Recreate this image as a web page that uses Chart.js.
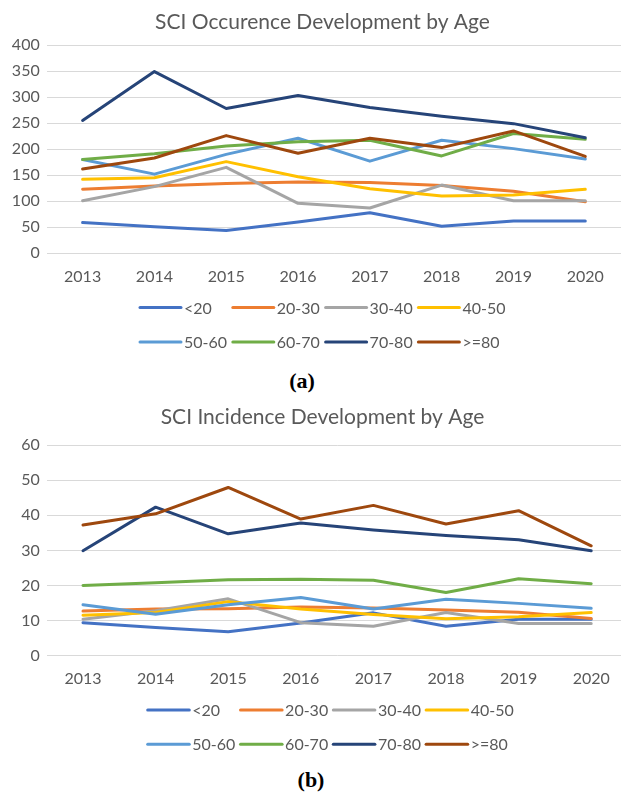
<!DOCTYPE html>
<html>
<head>
<meta charset="utf-8">
<script src="https://cdn.jsdelivr.net/npm/chart.js@4/dist/chart.umd.min.js"></script>
<style>
  html, body { margin: 0; padding: 0; background: #fff; }
  body { width: 621px; height: 796px; overflow: hidden; position: relative; }
  .panel { position: absolute; left: 0; width: 645px; height: 365px; }
  .caption {
    position: absolute; transform: translate(-50%, -50%);
    font: bold 22px "Liberation Serif", "DejaVu Serif", serif; color: #000;
  }
</style>
</head>
<body>
<div class="panel" style="top:0"><canvas id="chartOcc" width="645" height="365"></canvas></div>
<div class="caption" style="left:302px; top:381px">(a)</div>
<div class="panel" style="top:395px"><canvas id="chartInc" width="645" height="365"></canvas></div>
<div class="caption" style="left:311px; top:780px">(b)</div>

<script>
// Years on the category axis
const YEARS = ['2013', '2014', '2015', '2016', '2017', '2018', '2019', '2020'];
const AGE_GROUPS = ['<20', '20-30', '30-40', '40-50', '50-60', '60-70', '70-80', '>=80'];

// (a) SCI occurrence (cases)
const OCC_LT20  = [59, 51, 44, 60, 78, 52, 62, 62];
const OCC_20_30 = [123, 129, 134, 137, 136, 130, 119, 99];
const OCC_30_40 = [101, 128, 165, 96, 87, 131, 101, 101];
const OCC_40_50 = [142, 145, 176, 147, 124, 110, 112, 123];
const OCC_50_60 = [180, 152, 190, 221, 177, 217, 201, 181];
const OCC_60_70 = [180, 191, 206, 214, 217, 187, 230, 219];
const OCC_70_80 = [255, 349, 278, 303, 280, 263, 249, 222];
const OCC_GE80  = [162, 183, 226, 192, 221, 203, 235, 186];

// (b) SCI incidence
const INC_LT20  = [9.4, 8.0, 6.8, 9.3, 12.2, 8.4, 10.4, 10.4];
const INC_20_30 = [12.7, 13.3, 13.4, 13.9, 13.6, 13.0, 12.4, 10.6];
const INC_30_40 = [10.4, 12.8, 16.2, 9.4, 8.4, 12.3, 9.2, 9.2];
const INC_40_50 = [11.5, 12.3, 15.4, 13.3, 11.7, 10.5, 11.1, 12.3];
const INC_50_60 = [14.5, 11.8, 14.5, 16.6, 13.3, 16.1, 14.9, 13.5];
const INC_60_70 = [20.0, 20.8, 21.6, 21.8, 21.5, 18.0, 21.9, 20.5];
const INC_70_80 = [29.9, 42.3, 34.7, 37.8, 35.8, 34.2, 33.0, 29.9];
const INC_GE80  = [37.2, 40.4, 47.9, 38.9, 42.8, 37.5, 41.3, 31.3];

// Office palette
const SERIES_COLORS = ['#4472C4', '#ED7D31', '#A5A5A5', '#FFC000', '#5B9BD5', '#70AD47', '#264478', '#9E480E'];
const TEXT = '#595959';
const GRID = '#D9D9D9';
const FONT = 'Lato, "Open Sans", sans-serif';

// Excel-style title + 4-column legend, drawn on the chart canvas
const excelDecor = {
  id: 'excelDecor',
  afterDraw(chart, args, opts) {
    const { ctx, chartArea } = chart;
    ctx.save();
    ctx.fillStyle = TEXT;
    ctx.textBaseline = 'middle';

    ctx.font = '21px ' + FONT;
    ctx.textAlign = 'center';
    ctx.fillText(opts.title, chart.width / 2, opts.titleY);

    ctx.font = '16px ' + FONT;
    ctx.textAlign = 'left';
    chart.data.datasets.forEach((ds, i) => {
      const x = opts.legendX + (i % 4) * opts.colW;
      const y = chartArea.bottom + opts.rowY[Math.floor(i / 4)];
      ctx.strokeStyle = ds.borderColor;
      ctx.lineWidth = 3;
      ctx.lineCap = 'round';
      ctx.beginPath();
      ctx.moveTo(x, y);
      ctx.lineTo(x + opts.lineLen, y);
      ctx.stroke();
      ctx.fillText(ds.label, x + opts.lineLen + 3, y + 1);
    });
    ctx.restore();
  },
};

function makeDatasets(seriesList) {
  return seriesList.map((values, i) => ({
    label: AGE_GROUPS[i],
    data: values,
    borderColor: SERIES_COLORS[i],
    backgroundColor: SERIES_COLORS[i],
    borderWidth: 3,
    pointRadius: 0,
    tension: 0,
    borderJoinStyle: 'round',
    borderCapStyle: 'round',
    order: seriesList.length - i, // later series on top, like Excel
  }));
}

function makeChart(id, seriesList, yMax, yStep, padding, decor) {
  return new Chart(document.getElementById(id), {
    type: 'line',
    data: { labels: YEARS, datasets: makeDatasets(seriesList) },
    options: {
      responsive: false,
      animation: false,
      layout: { padding },
      scales: {
        x: {
          offset: true,
          grid: { display: false },
          border: { display: false },
          ticks: { color: TEXT, font: { family: FONT, size: 16 }, padding: 6, maxRotation: 0 },
          afterFit(scale) { scale.height = 40; },
        },
        y: {
          min: 0,
          max: yMax,
          ticks: { stepSize: yStep, color: TEXT, font: { family: FONT, size: 16 }, padding: 7 },
          grid: { color: GRID, lineWidth: 1, drawTicks: false },
          border: { display: false },
          afterFit(scale) { scale.width = 46.7; },
        },
      },
      plugins: {
        legend: { display: false },
        title: { display: false },
        tooltip: { enabled: false },
        excelDecor: decor,
      },
    },
    plugins: [excelDecor],
  });
}

makeChart('chartOcc',
  [OCC_LT20, OCC_20_30, OCC_30_40, OCC_40_50, OCC_50_60, OCC_60_70, OCC_70_80, OCC_GE80],
  400, 50,
  { top: 45, left: 0, right: 23.8, bottom: 71.7 },
  { title: 'SCI Occurence Development by Age', titleY: 22.5, legendX: 140, colW: 92.8, lineLen: 41, rowY: [54.2, 88.8] });

makeChart('chartInc',
  [INC_LT20, INC_20_30, INC_30_40, INC_40_50, INC_50_60, INC_60_70, INC_70_80, INC_GE80],
  60, 10,
  { top: 50, left: 0, right: 17.5, bottom: 64.3 },
  { title: 'SCI Incidence Development by Age', titleY: 22.5, legendX: 147.7, colW: 92.8, lineLen: 41.6, rowY: [54.3, 88.6] });
</script>
</body>
</html>
